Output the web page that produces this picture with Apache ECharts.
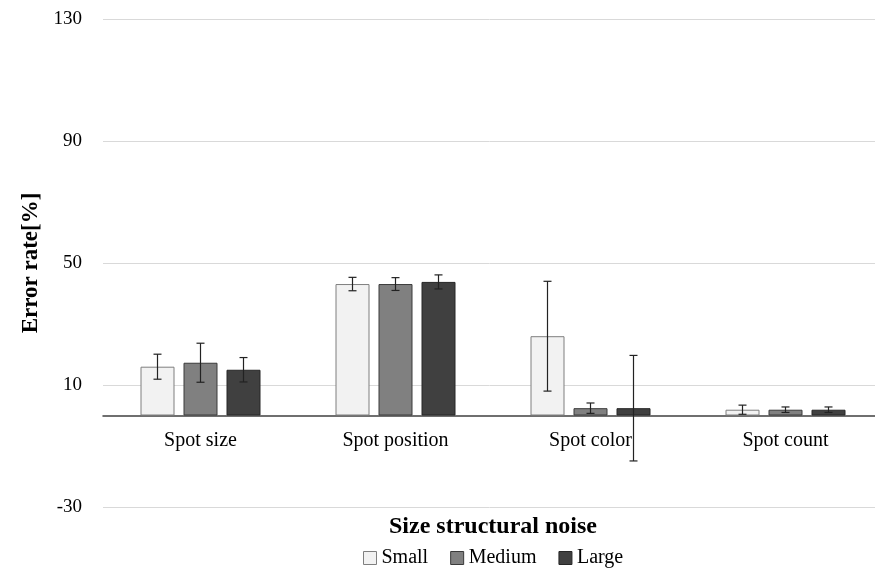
<!DOCTYPE html>
<html><head><meta charset="utf-8">
<script src="https://cdn.jsdelivr.net/npm/echarts@6/dist/echarts.min.js"></script>
<style>html,body{margin:0;padding:0;background:#fff}#c{width:875px;height:568px}</style>
</head><body><div id="c"></div>
<script>
var categories = ['Spot size', 'Spot position', 'Spot color', 'Spot count'];
var seriesNames = ['Small', 'Medium', 'Large'];
var smallVals = [16.0, 43.1, 26.0, 1.9];
var mediumVals = [17.3, 43.1, 2.4, 1.9];
var largeVals = [15.0, 43.8, 2.4, 1.9];
var smallErr = [4.1, 2.2, 18.0, 1.5];
var mediumErr = [6.4, 2.1, 1.7, 0.9];
var largeErr = [4.0, 2.3, 17.3, 0.9];
var yTicks = [-30, 10, 50, 90, 130];

var FONT = '"Liberation Serif", "DejaVu Serif", serif';
var BW = 34, GAP = 9;
var fills = ['#f2f2f2', '#808080', '#404040'];
var borders = ['#7f7f7f', '#3a3a3a', '#262626'];
var vals = [smallVals, mediumVals, largeVals];
var errs = [smallErr, mediumErr, largeErr];

var series = [];
vals.forEach(function (v, k) {
  series.push({
    name: seriesNames[k], type: 'bar', data: v, barWidth: BW, barGap: (GAP / BW * 100) + '%',
    itemStyle: { color: fills[k], borderColor: borders[k], borderWidth: 1 },
    emphasis: { disabled: true }
  });
});
vals.forEach(function (v, k) {
  var d = v.map(function (val, i) { return [i, val - errs[k][i], val + errs[k][i]]; });
  series.push({
    type: 'custom', name: 'err' + k, data: d, z: 10, silent: true,
    renderItem: function (params, api) {
      var i = api.value(0);
      var lo = api.coord([i, api.value(1)]);
      var hi = api.coord([i, api.value(2)]);
      var x = lo[0] + (k - 1) * (BW + GAP);
      var cap = 4;
      var st = { stroke: '#222', lineWidth: 1.2 };
      return { type: 'group', children: [
        { type: 'line', shape: { x1: x, y1: lo[1], x2: x, y2: hi[1] }, style: st },
        { type: 'line', shape: { x1: x - cap, y1: lo[1], x2: x + cap, y2: lo[1] }, style: st },
        { type: 'line', shape: { x1: x - cap, y1: hi[1], x2: x + cap, y2: hi[1] }, style: st }
      ]};
    }
  });
});

var chart = echarts.init(document.getElementById('c'));
chart.setOption({
  animation: false,
  grid: { left: 103, right: -8, top: 19, bottom: 61, containLabel: false, outerBoundsMode: 'none' },
  legend: {
    data: seriesNames, top: 543, left: 358, itemWidth: 13, itemHeight: 13, itemGap: 22,
    icon: 'rect',
    textStyle: { fontFamily: FONT, fontSize: 20, color: '#000' },
    itemStyle: { borderWidth: 1 }
  },
  xAxis: {
    type: 'category', data: categories, position: 'bottom', offset: -91.5,
    name: 'Size structural noise', nameLocation: 'middle', nameGap: 99,
    nameTextStyle: { fontFamily: FONT, fontSize: 24, fontWeight: 'bold', color: '#000' },
    axisLine: { onZero: false, lineStyle: { color: '#404040', width: 1.5 } },
    axisTick: { show: false },
    axisLabel: { fontFamily: FONT, fontSize: 20, color: '#000', margin: 15 }
  },
  yAxis: {
    type: 'value', min: yTicks[0], max: yTicks[yTicks.length - 1], interval: 40,
    name: 'Error rate[%]', nameLocation: 'middle', nameGap: 60,
    nameTextStyle: { fontFamily: FONT, fontSize: 23, fontWeight: 'bold', color: '#000' },
    axisLine: { show: false }, axisTick: { show: false },
    axisLabel: { fontFamily: FONT, fontSize: 19, color: '#000', margin: 21 },
    splitLine: { lineStyle: { color: '#d9d9d9', width: 1 } }
  },
  series: series
});
</script></body></html>
